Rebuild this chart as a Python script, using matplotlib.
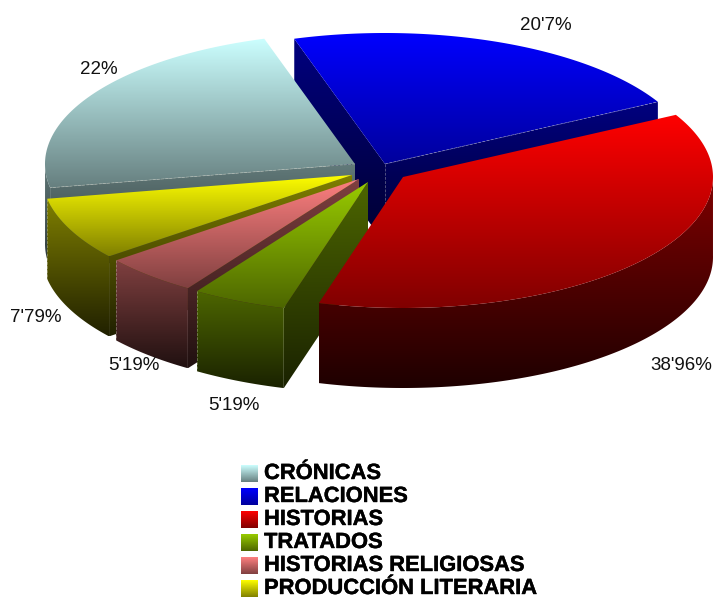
import numpy as np
import matplotlib
matplotlib.use('Agg')
import matplotlib.pyplot as plt
import matplotlib.patheffects as pe
from matplotlib.colors import to_rgb
from matplotlib.patches import Polygon
from matplotlib.path import Path

# Data
categories = ['CRÓNICAS', 'RELACIONES', 'HISTORIAS', 'TRATADOS',
              'HISTORIAS RELIGIOSAS', 'PRODUCCIÓN LITERARIA']
values = [22, 20.7, 38.96, 5.19, 5.19, 7.79]

# Styles, same order as categories
top_colors = ['#ccffff', '#0000ff', '#ff0000', '#99cc00', '#ff8080', '#ffff00']
mid_colors = ['#667f7f', '#00009c', '#800000', '#4d6600', '#804040', '#808000']
side_colors = ['#627a7a', '#000080', '#800000', '#4d6600', '#804040', '#808000']
dark_colors = ['#2a3535', '#000030', '#1e0000', '#1a2200', '#201010', '#202000']
apex_points = [(355, 164), (385, 164), (403, 177), (368, 182), (359, 179), (352, 175)]
label_points = [(99, 69), (546, 26), (681, 366), (234, 405), (134, 365), (36, 318)]
draw_order = [1, 0, 5, 4, 3, 2]

RX, RY, DEPTH = 310, 131, 80
START_ANGLE = 107


def warp(t):
    # the pie is drawn with some perspective, angles do not stay exact
    r = np.radians(t)
    return t - 4 * np.cos(r) - 1.2 * np.sin(r)


def rim_xy(apex, t):
    r = np.radians(warp(np.asarray(t, dtype=float)))
    return apex[0] + RX * np.cos(r), apex[1] - RY * np.sin(r)


def grad_fill(ax, verts, c1, c2, y1=None, y2=None):
    verts = np.asarray(verts)
    y1 = verts[:, 1].min() if y1 is None else y1
    y2 = verts[:, 1].max() if y2 is None else y2
    steps = np.linspace(0, 1, 256)[:, None]
    img = (1 - steps) * np.array(to_rgb(c1)) + steps * np.array(to_rgb(c2))
    z = len(ax.images) + 1
    im = ax.imshow(img[:, None, :], extent=[verts[:, 0].min(), verts[:, 0].max(), y2, y1],
                   aspect='auto', zorder=z, interpolation='bilinear')
    patch = Polygon(verts, closed=True, facecolor='none', edgecolor='none', transform=ax.transData)
    ax.add_patch(patch)
    im.set_clip_path(patch)


def edge_line(ax, xs, ys):
    ax.plot(xs, ys, color='#d8d8c8', lw=0.5, ls=(0, (4, 2)), alpha=0.5, zorder=len(ax.images) + 1)


fig = plt.figure(figsize=(7.14, 5.97), dpi=100)
ax = fig.add_axes([0, 0, 1, 1])

shares = np.array(values) / sum(values) * 360
# cronicas is first in the legend but sits to the left of the start angle
angles = {}
a = START_ANGLE
for i in [1, 2, 3, 4, 5, 0]:
    angles[i] = (a, a - shares[i])
    a -= shares[i]

for i in draw_order:
    apex = apex_points[i]
    t1, t2 = angles[i]
    ts = np.linspace(t1, t2, 200)
    x, y = rim_xy(apex, ts)
    top = np.vstack([[apex], np.column_stack([x, y])])
    top_path = Path(top)
    bottom_y = max(y.max(), apex[1]) + DEPTH

    # cut faces, skip the ones that turn away from us
    for j in [0, -1]:
        mid = ((apex[0] + x[j]) / 2, (apex[1] + y[j]) / 2 + 3)
        if top_path.contains_point(mid):
            continue
        face = [apex, (x[j], y[j]), (x[j], y[j] + DEPTH), (apex[0], apex[1] + DEPTH)]
        grad_fill(ax, face, side_colors[i], dark_colors[i], min(apex[1], y[j]), bottom_y)

    # outer wall, only the front part shows
    front = np.sin(np.radians(warp(ts))) < 0.02
    if front.any():
        fx, fy = x[front], y[front]
        wall = np.vstack([np.column_stack([fx, fy]), np.column_stack([fx, fy + DEPTH])[::-1]])
        grad_fill(ax, wall, side_colors[i], dark_colors[i], fy.min(), bottom_y)

    grad_fill(ax, top, top_colors[i], mid_colors[i])

    # thin pale seams the original has along the edges
    if i == 0:
        edge_line(ax, [apex[0], x[0]], [apex[1], y[0]])
    elif i == 1:
        edge_line(ax, [apex[0], x[-1]], [apex[1], y[-1]])
        edge_line(ax, [apex[0], apex[0]], [apex[1], apex[1] + DEPTH])
    elif i in (3, 4, 5):
        edge_line(ax, [x[-1], x[-1]], [y[-1], y[-1] + DEPTH])

for i, val in enumerate(values):
    txt = f'{val:g}'.replace('.', "'") + '%'
    ax.text(label_points[i][0], label_points[i][1], txt, family='Liberation Sans', fontsize=13.5,
            color='#111111', ha='center', va='center', zorder=100)

# Legend
for i, name in enumerate(categories):
    sy = 465 + 23 * i
    grad_fill(ax, [(241, sy), (258, sy), (258, sy + 17), (241, sy + 17)], top_colors[i], mid_colors[i])
    ax.text(264, sy + 8.5, name, family='Liberation Sans', fontweight='bold', fontsize=15.8,
            color='black', ha='left', va='center', zorder=100,
            path_effects=[pe.withStroke(linewidth=0.3, foreground='black')])

ax.set_xlim(0, 714)
ax.set_ylim(597, 0)
ax.axis('off')

plt.savefig('out.png', dpi=100)
